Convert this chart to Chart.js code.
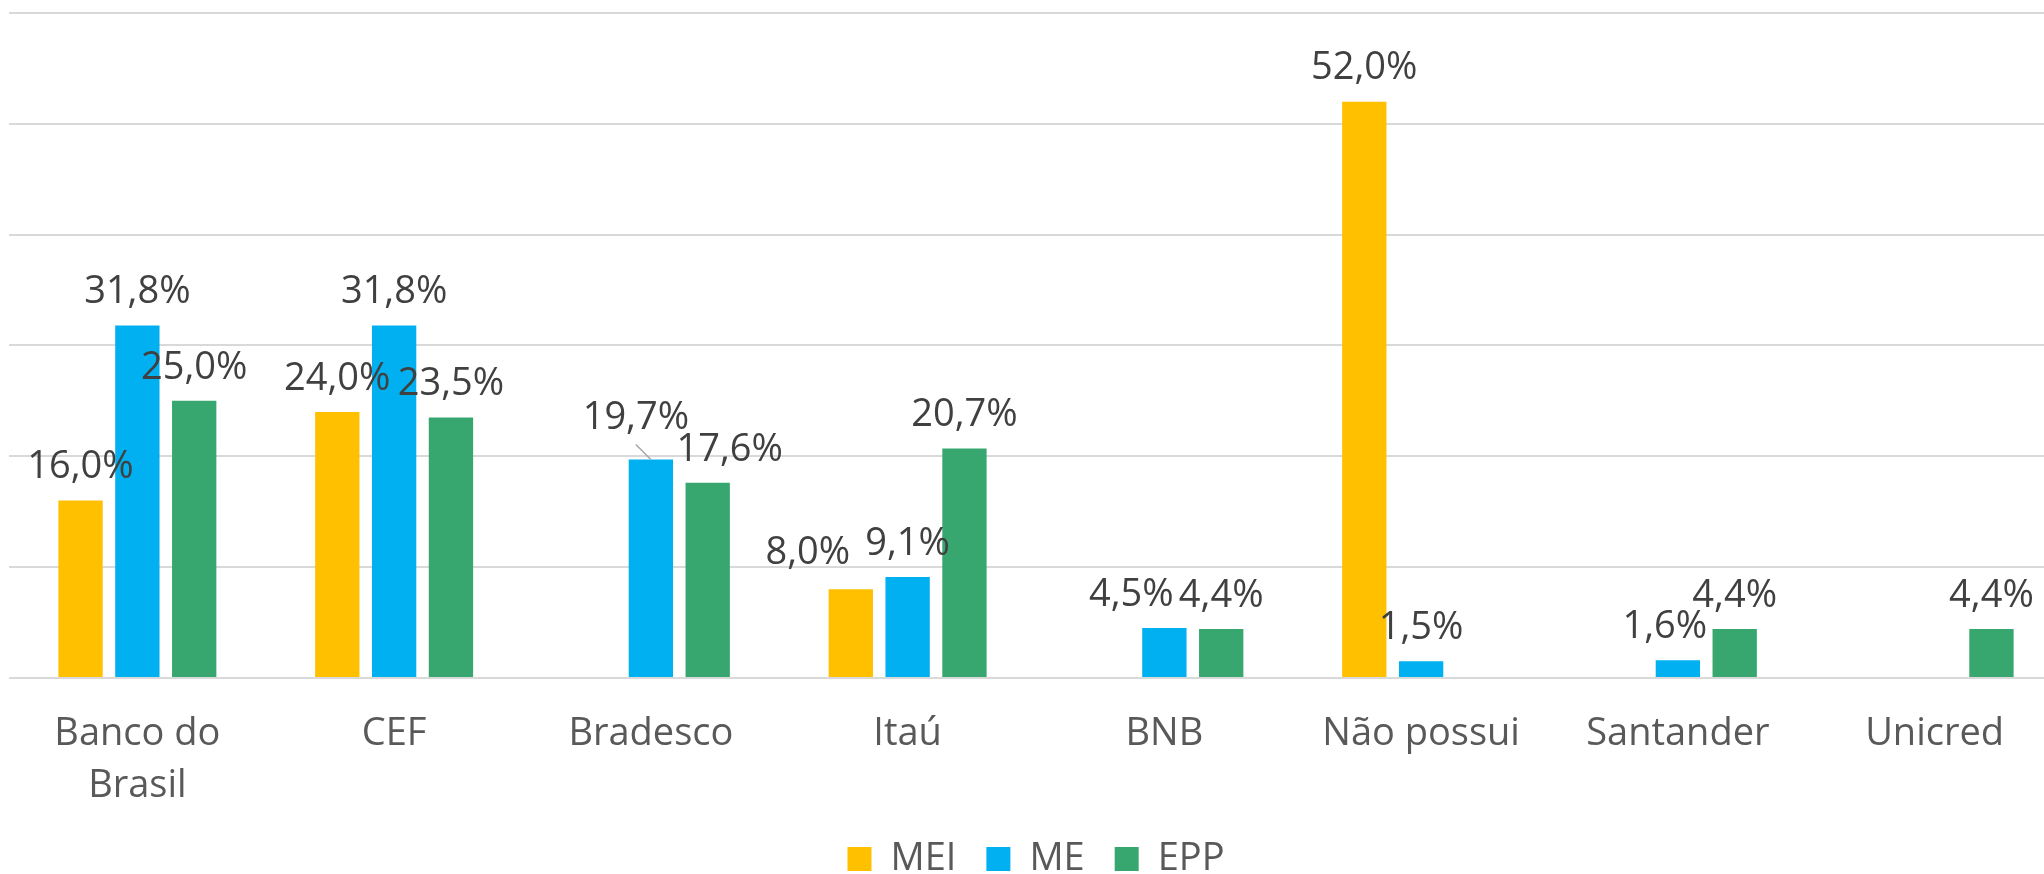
<!DOCTYPE html>
<html>
<head>
<meta charset="utf-8">
<script src="https://cdn.jsdelivr.net/npm/chart.js@4/dist/chart.umd.min.js"></script>
<style>
    html, body { margin: 0; padding: 0; background: #fff; }
    /* plot area runs past the right edge in the original, so the canvas is wider and clipped */
    #wrap { width: 2044px; height: 874px; overflow: hidden; }
</style>
</head>
<body>
<div id="wrap"><canvas id="chart" width="2063" height="874"></canvas></div>
<script>
/* ================= DATA ================= */
const categories = [["Banco do", "Brasil"], "CEF", "Bradesco", "Itaú", "BNB", "Não possui", "Santander", "Unicred"];

const seriesNames = ["MEI", "ME", "EPP"];
const meiValues = [16.0, 24.0, null, 8.0, null, 52.0, null, null];
const meValues  = [31.8, 31.8, 19.7, 9.1, 4.5, 1.5, 1.6, null];
const eppValues = [25.0, 23.5, 17.6, 20.7, 4.4, null, 4.4, 4.4];

const yMin = 0;
const yMax = 60;
const yStep = 10;

/* ================= STYLE ================= */
const colors = ["#FFC000", "#00B0F0", "#37A76F"];
const FONT = "'Open Sans', 'Noto Sans', sans-serif";

// manual nudges of some data labels (dataset index -> category index -> [dx, dy, leader])
const labelNudges = {
    0: { 3: [-43, -3] },
    1: { 2: [-15, -8, true], 4: [-33, 0], 6: [-13, 0] },
    2: { 2: [22, 0] }
};

/* ================= LABEL PLUGIN ================= */
const barLabels = {
    id: "barLabels",
    afterDatasetsDraw(chart) {
        const ctx = chart.ctx;
        ctx.save();
        ctx.font = "38px " + FONT;
        ctx.fillStyle = "#404040";
        ctx.textAlign = "center";
        ctx.textBaseline = "middle";

        chart.data.datasets.forEach((ds, di) => {
            const meta = chart.getDatasetMeta(di);
            meta.data.forEach((bar, i) => {
                const v = ds.data[i];
                if (v === null || v === undefined) return;
                const nudge = (labelNudges[di] && labelNudges[di][i]) || [0, 0];
                const x = bar.x + nudge[0];
                const y = bar.y - 33 + nudge[1];
                if (nudge[2]) {
                    ctx.strokeStyle = "#A6A6A6";
                    ctx.lineWidth = 1.5;
                    ctx.beginPath();
                    ctx.moveTo(x, y + 26);
                    ctx.lineTo(bar.x, bar.y);
                    ctx.stroke();
                }
                ctx.fillText(v.toFixed(1).replace(".", ",") + "%", x, y);
            });
        });
        ctx.restore();
    }
};

/* ================= CHART ================= */
const datasets = [meiValues, meValues, eppValues].map((vals, i) => ({
    label: seriesNames[i],
    data: vals,
    backgroundColor: colors[i],
    borderWidth: 0,
    categoryPercentage: 0.664,
    barPercentage: 0.78
}));

new Chart(document.getElementById("chart"), {
    type: "bar",
    data: { labels: categories, datasets: datasets },
    options: {
        responsive: false,
        animation: false,
        devicePixelRatio: 1,
        layout: { padding: { left: 9, right: 0, top: 13, bottom: -14 } },
        plugins: {
            legend: {
                position: "bottom",
                labels: {
                    font: { family: FONT, size: 38 },
                    color: "#595959",
                    boxWidth: 24,
                    boxHeight: 24,
                    padding: 30
                }
            },
            tooltip: { enabled: false }
        },
        scales: {
            x: {
                grid: { display: false, drawTicks: false },
                border: { display: false },
                ticks: {
                    font: { family: FONT, size: 38, lineHeight: 1.37 },
                    color: "#595959",
                    padding: 30,
                    maxRotation: 0,
                    autoSkip: false
                },
                afterFit(scale) {
                    scale.height = scale.height - 32;
                }
            },
            y: {
                min: yMin,
                max: yMax,
                ticks: { stepSize: yStep, display: false },
                grid: { color: "#D9D9D9", lineWidth: 2, drawTicks: false },
                border: { display: false }
            }
        }
    },
    plugins: [barLabels]
});
</script>
</body>
</html>
